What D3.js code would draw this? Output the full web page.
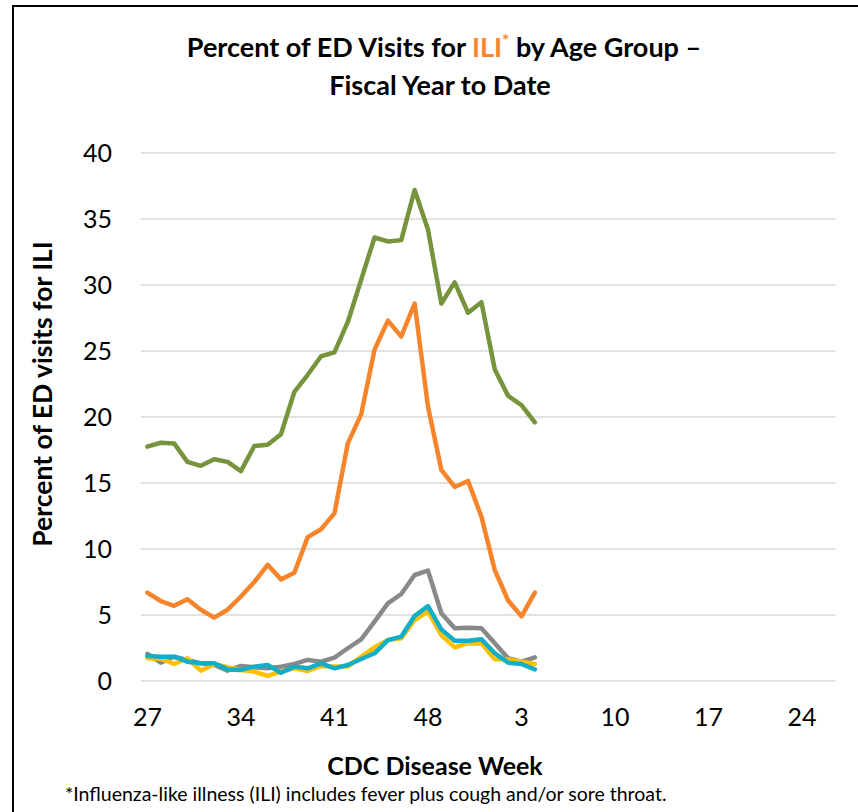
<!DOCTYPE html>
<meta charset="utf-8">
<style>
body { margin: 0; background: #fff; }
text { font-family: Lato, "Open Sans", sans-serif; fill: #000; }
.grid line { stroke: #d9d9d9; stroke-width: 1.3px; }
.series path { fill: none; stroke-width: 4.5px; stroke-linejoin: round; stroke-linecap: round; }
</style>
<body>
<script src="https://d3js.org/d3.v7.min.js"></script>
<script>

// CDC weeks of the fiscal year (27..52, then 1..26)
var weeks = d3.range(27, 53).concat(d3.range(1, 27));
var tickWeeks = [27, 34, 41, 48, 3, 10, 17, 24];
var yTicks = [0, 5, 10, 15, 20, 25, 30, 35, 40];

// weeks reported so far (27 .. 4)
var reported = weeks.slice(0, 30);

// percent of ED visits for ILI, one array per age group
var ageA = [17.75, 18.05, 18.0, 16.6, 16.3, 16.8, 16.6, 15.9, 17.8, 17.9, 18.7, 21.9, 23.2, 24.6, 24.9,
            27.2, 30.4, 33.6, 33.3, 33.4, 37.2, 34.2, 28.6, 30.2, 27.9, 28.7, 23.6, 21.6, 20.9, 19.6];
var ageB = [6.7, 6.06, 5.7, 6.2, 5.4, 4.8, 5.4, 6.4, 7.5, 8.8, 7.7, 8.2, 10.9, 11.5, 12.7,
            18.0, 20.2, 25.1, 27.3, 26.1, 28.6, 20.8, 16.0, 14.7, 15.15, 12.45, 8.4, 6.1, 4.9, 6.7];
var ageC = [2.05, 1.39, 1.84, 1.6, 1.34, 1.21, 0.78, 1.14, 1.04, 0.96, 1.08, 1.29, 1.6, 1.46, 1.77,
            2.48, 3.16, 4.49, 5.88, 6.59, 8.03, 8.36, 5.13, 3.99, 4.04, 4.0, 2.86, 1.72, 1.46, 1.79];
var ageD = [1.72, 1.69, 1.29, 1.72, 0.78, 1.29, 1.04, 0.83, 0.71, 0.38, 0.71, 0.96, 0.76, 1.14, 1.09,
            1.09, 1.84, 2.55, 3.1, 3.23, 4.62, 5.25, 3.48, 2.55, 2.85, 2.85, 1.64, 1.64, 1.46, 1.29];
var ageE = [1.89, 1.84, 1.84, 1.46, 1.34, 1.34, 0.88, 0.84, 1.09, 1.21, 0.63, 1.09, 0.96, 1.34, 0.96,
            1.21, 1.67, 2.1, 3.1, 3.36, 4.92, 5.68, 3.91, 3.05, 3.05, 3.16, 2.1, 1.39, 1.29, 0.88];

var series = [
  { values: ageA, color: "#77933c" },
  { values: ageB, color: "#f5842a" },
  { values: ageC, color: "#88898b" },
  { values: ageD, color: "#ffc000" },
  { values: ageE, color: "#12adc6" }
];

var width = 858, height = 812;

var svg = d3.select("body").append("svg")
    .attr("width", width)
    .attr("height", height);

// chart frame (runs off the right/bottom edge in the original)
svg.append("rect")
    .attr("x", 13).attr("y", 6)
    .attr("width", 900).attr("height", 900)
    .attr("fill", "none")
    .attr("stroke", "#000")
    .attr("stroke-width", 2);

var x = d3.scaleBand()
    .domain(weeks)
    .range([140.7, 835.5]);

var y = d3.scaleLinear()
    .domain([0, 40])
    .range([681, 153]);

function cx(w) { return x(w) + x.bandwidth() / 2; }

// gridlines
svg.append("g")
    .attr("class", "grid")
  .selectAll("line")
  .data(yTicks)
  .enter().append("line")
    .attr("x1", x.range()[0])
    .attr("x2", x.range()[1])
    .attr("y1", function(d) { return y(d); })
    .attr("y2", function(d) { return y(d); });

// y axis labels
var yAxis = d3.axisLeft(y).tickValues(yTicks).tickSize(0).tickPadding(0);
var gy = svg.append("g")
    .attr("transform", "translate(112,0)")
    .call(yAxis);
gy.select(".domain").remove();
gy.selectAll("text")
    .attr("dy", "0.35em")
    .style("font-size", "25px")
    .style("font-family", "Lato, sans-serif");

// x axis labels
var xAxis = d3.axisBottom(x).tickValues(tickWeeks).tickSize(0).tickPadding(0);
var gx = svg.append("g")
    .attr("transform", "translate(0,708)")
    .call(xAxis);
gx.select(".domain").remove();
gx.selectAll("text")
    .attr("dy", "0.71em")
    .style("font-size", "25px")
    .style("font-family", "Lato, sans-serif");

// lines
var line = d3.line()
    .x(function(d, i) { return cx(reported[i]); })
    .y(function(d) { return y(d); });

svg.append("g")
    .attr("class", "series")
  .selectAll("path")
  .data(series)
  .enter().append("path")
    .attr("stroke", function(d) { return d.color; })
    .attr("d", function(d) { return line(d.values); });

// title
var title = svg.append("text")
    .attr("x", 444).attr("y", 57)
    .attr("text-anchor", "middle")
    .style("font-size", "27px")
    .style("font-weight", "bold");
title.append("tspan").text("Percent of ED Visits for ");
title.append("tspan").style("fill", "#f5842a").text("ILI");
title.append("tspan").attr("dy", -10).style("fill", "#f5842a").style("font-size", "17px").text("*");
title.append("tspan").attr("dy", 10).text(" by Age Group \u2013");

svg.append("text")
    .attr("x", 440).attr("y", 95)
    .attr("text-anchor", "middle")
    .style("font-size", "27px")
    .style("font-weight", "bold")
    .text("Fiscal Year to Date");

// axis titles
svg.append("text")
    .attr("transform", "translate(52,394) rotate(-90)")
    .attr("text-anchor", "middle")
    .style("font-size", "26.5px")
    .style("font-weight", "bold")
    .text("Percent of ED visits for ILI");

svg.append("text")
    .attr("x", 435).attr("y", 775)
    .attr("text-anchor", "middle")
    .style("font-size", "25px")
    .style("font-weight", "bold")
    .text("CDC Disease Week");

svg.append("text")
    .attr("x", 65).attr("y", 801)
    .style("font-size", "19.5px")
    .text("*Influenza-like illness (ILI) includes fever plus cough and/or sore throat.");

</script>
</body>
